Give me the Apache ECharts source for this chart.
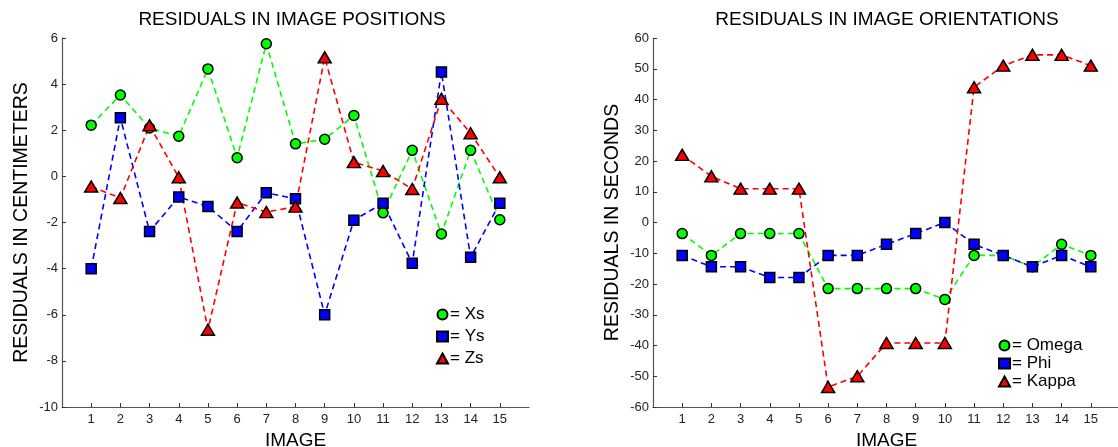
<!DOCTYPE html>
<html><head><meta charset="utf-8">
<script src="https://cdn.jsdelivr.net/npm/echarts@6/dist/echarts.min.js"></script>
<style>html,body{margin:0;padding:0;background:#fff}#c{width:1118px;height:447px}</style>
</head><body><div id="c"></div>
<script>
// ---- data ----
const images = [1,2,3,4,5,6,7,8,9,10,11,12,13,14,15];
const xs = [2.22, 3.53, 2.1, 1.74, 4.66, 0.81, 5.75, 1.41, 1.61, 2.64, -1.58, 1.13, -2.5, 1.13, -1.88];
const ys = [-4.0, 2.54, -2.39, -0.89, -1.31, -2.39, -0.71, -0.97, -6.0, -1.9, -1.16, -3.77, 4.53, -3.51, -1.16];
const zs = [-0.44, -0.94, 2.21, -0.04, -6.65, -1.13, -1.55, -1.31, 5.16, 0.62, 0.23, -0.55, 3.36, 1.87, -0.04];
const omega = [-3.6, -10.7, -3.6, -3.6, -3.6, -21.5, -21.5, -21.5, -21.5, -25.0, -10.7, -10.7, -14.4, -7.1, -10.7];
const phi = [-10.7, -14.4, -14.4, -17.9, -17.9, -10.7, -10.7, -7.1, -3.6, 0, -7.1, -10.7, -14.4, -10.7, -14.4];
const kappa = [22, 15, 11, 11, 11, -53.5, -50, -39.2, -39.2, -39.2, 44, 51, 54.5, 54.5, 51];
const posTicks = [-10, -8, -6, -4, -2, 0, 2, 4, 6];
const oriTicks = [-60, -50, -40, -30, -20, -10, 0, 10, 20, 30, 40, 50, 60];
const titles = ['RESIDUALS IN IMAGE POSITIONS', 'RESIDUALS IN IMAGE ORIENTATIONS'];
const yNames = ['RESIDUALS IN CENTIMETERS', 'RESIDUALS IN SECONDS'];
const xName = 'IMAGE';
const posNames = ['Xs', 'Ys', 'Zs'];
const oriNames = ['Omega', 'Phi', 'Kappa'];

// ---- styling ----
const FONT = '"Liberation Sans", Arial, sans-serif';
const GREEN = '#00ff00', BLUE = '#0000ff', RED = '#ff0000';
const AXIS = '#555555';
const pairs = arr => arr.map((v, i) => [images[i], v]);

function mkSeries(name, data, color, symbol, size, xi) {
  return {
    type: 'line', name, data: pairs(data), xAxisIndex: xi, yAxisIndex: xi,
    symbol, symbolSize: size, showSymbol: true,
    itemStyle: { color, borderColor: '#000', borderWidth: 1.5 },
    lineStyle: { color, width: 1.6, type: [6, 4] },
    emphasis: { disabled: true }, z: 2
  };
}
function mkX(gi) {
  return {
    gridIndex: gi, type: 'value', min: 0, max: 16, interval: 1,
    axisLine: { show: true, onZero: false, lineStyle: { color: AXIS, width: 1.2 } },
    axisTick: { show: true, inside: true, length: 4, customValues: images, lineStyle: { color: '#333' } },
    axisLabel: { customValues: images, fontSize: 13, color: '#222', margin: 6, fontFamily: FONT },
    splitLine: { show: false },
    name: xName, nameLocation: 'middle', nameGap: 23,
    nameTextStyle: { fontSize: 19, color: '#000', fontFamily: FONT }
  };
}
function mkY(gi, ticks, name) {
  return {
    gridIndex: gi, type: 'value', min: ticks[0], max: ticks[ticks.length - 1],
    interval: ticks[1] - ticks[0],
    axisLine: { show: true, onZero: false, lineStyle: { color: AXIS, width: 1.2 } },
    axisTick: { show: true, inside: true, length: 4, lineStyle: { color: '#333' } },
    axisLabel: { fontSize: 13, color: '#222', margin: 4, fontFamily: FONT },
    splitLine: { show: false },
    name, nameLocation: 'middle', nameGap: 30,
    nameTextStyle: { fontSize: 19.5, color: '#000', fontFamily: FONT }
  };
}
function mkLegend(names, left, top, gap) {
  const icons = ['circle', 'rect', 'triangle'];
  return {
    orient: 'vertical', left, top, itemGap: gap, itemWidth: 11, itemHeight: 10,
    padding: 0, selectedMode: false,
    data: names.map((n, i) => ({ name: n, icon: icons[i] })),
    formatter: '= {name}',
    textStyle: { fontSize: 17, color: '#000', fontFamily: FONT, padding: [0, 0, 0, -3] }
  };
}

const chart = echarts.init(document.getElementById('c'), null, { renderer: 'canvas' });
chart.setOption({
  animation: false,
  backgroundColor: '#fff',
  textStyle: { fontFamily: FONT },
  title: [
    { text: titles[0], left: 292, top: 10, textAlign: 'center', padding: 0,
      textStyle: { fontSize: 19, fontWeight: 'normal', color: '#000', fontFamily: FONT } },
    { text: titles[1], left: 887, top: 10, textAlign: 'center', padding: 0,
      textStyle: { fontSize: 19, fontWeight: 'normal', color: '#000', fontFamily: FONT } }
  ],
  grid: [
    { left: 62, right: 589, top: 38, bottom: 40, containLabel: false, outerBoundsMode: 'none' },
    { left: 653, right: -2, top: 38, bottom: 40, containLabel: false, outerBoundsMode: 'none' }
  ],
  xAxis: [mkX(0), mkX(1)],
  yAxis: [mkY(0, posTicks, yNames[0]), mkY(1, oriTicks, yNames[1])],
  legend: [mkLegend(posNames, 436, 306, 5), mkLegend(oriNames, 998, 337, 1)],
  series: [
    mkSeries(posNames[0], xs, GREEN, 'circle', 10, 0),
    mkSeries(posNames[1], ys, BLUE, 'rect', 10, 0),
    mkSeries(posNames[2], zs, RED, 'triangle', [13, 11], 0),
    mkSeries(oriNames[0], omega, GREEN, 'circle', 10, 1),
    mkSeries(oriNames[1], phi, BLUE, 'rect', 10, 1),
    mkSeries(oriNames[2], kappa, RED, 'triangle', [13, 11], 1)
  ]
});
</script></body></html>
